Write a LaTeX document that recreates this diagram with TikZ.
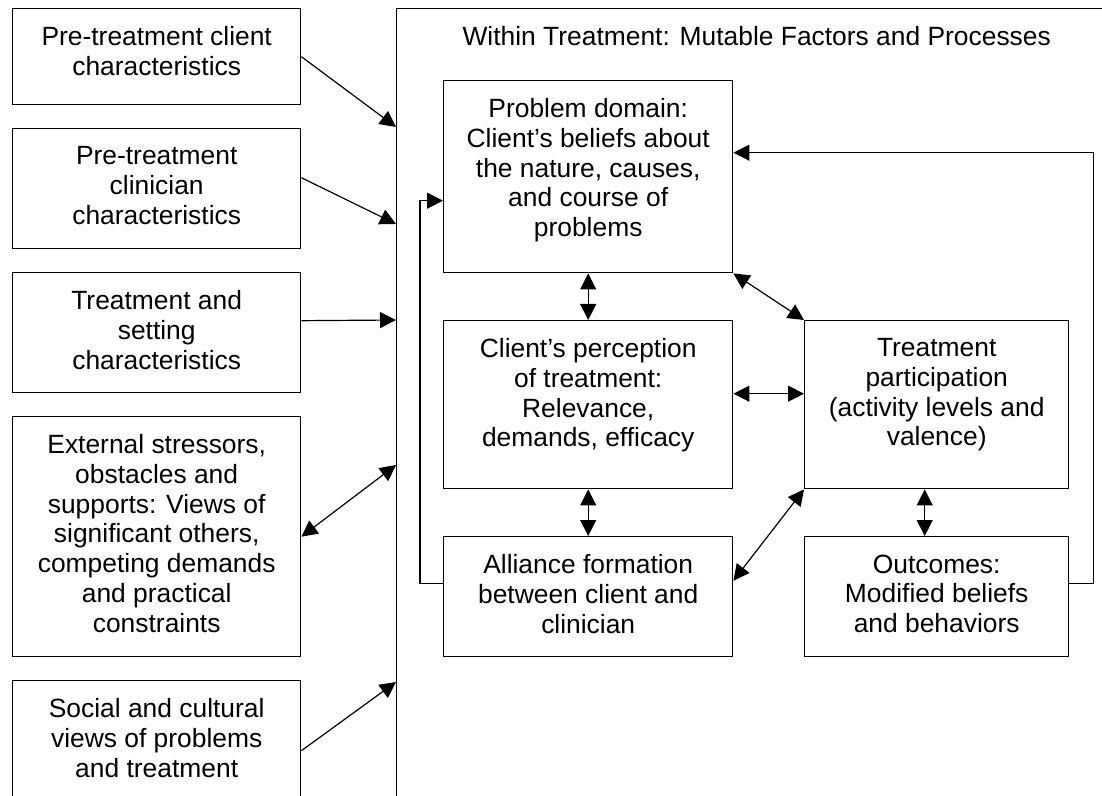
\documentclass[tikz,border=0pt]{standalone}
\usepackage{fontspec}
\setmainfont{Liberation Sans}
\usetikzlibrary{arrows.meta,calc}
\newcommand{\celltext}[3]{\parbox[t][#2][t]{#1}{\centering #3}}

\begin{document}
\begin{tikzpicture}[x=0.5pt,y=-0.5pt]
        % styles
        \tikzstyle{box}=[draw, line width=0.7pt, inner xsep=0pt, inner ysep=9pt, anchor=north west, font=\fontsize{13.2pt}{14.85pt}\selectfont]
        \tikzstyle{oneway}=[-{Triangle[length=8pt,width=8pt]}, line width=0.6pt]
        \tikzstyle{twoway}=[{Triangle[length=8pt,width=8pt]}-{Triangle[length=8pt,width=8pt]}, line width=0.6pt]

        % page
        \useasboundingbox (0,0) rectangle (1102,796);
        \clip (0,0) rectangle (1102,796);

        % factors outside treatment
        \node[box] (client) at (12,8) {\celltext{144pt}{30pt}{Pre-treatment client\\characteristics}};
        \node[box] (clinician) at (12,128) {\celltext{144pt}{42pt}{Pre-treatment\\clinician\\characteristics}};
        \node[box] (setting) at (12,272) {\celltext{144pt}{42pt}{Treatment and\\setting\\characteristics}};
        \node[box] (stressors) at (12,416) {\celltext{144pt}{102pt}{External stressors,\\obstacles and\\supports: Views of\\significant others,\\competing demands\\and practical\\constraints}};
        \node[box] (social) at (12,680) {\celltext{144pt}{52pt}{Social and cultural\\views of problems\\and treatment}};

        % within treatment
        \node[box] (within) at (396,8) {\celltext{360pt}{388pt}{Within Treatment: Mutable Factors and Processes}};
        \node[box] (problem) at (443,80) {\celltext{144.5pt}{78pt}{Problem domain:\\Client’s beliefs about\\the nature, causes,\\and course of\\problems}};
        \node[box] (perception) at (443,320) {\celltext{144.5pt}{66pt}{Client’s perception\\of treatment:\\Relevance,\\demands, efficacy}};
        \node[box] (alliance) at (443,536) {\celltext{144.5pt}{42pt}{Alliance formation\\between client and\\clinician}};
        \node[box] (participation) at (804,320) {\celltext{132pt}{66pt}{Treatment\\participation\\(activity levels and\\valence)}};
        \node[box] (outcomes) at (804,536) {\celltext{132pt}{42pt}{Outcomes:\\Modified beliefs\\and behaviors}};

        % entry points on the frame
        \coordinate (w1) at (396,127);
        \coordinate (w2) at (396,224);
        \coordinate (w3) at (396,320);
        \coordinate (w4) at (396,465);
        \coordinate (w5) at (396,682);

        % influences on treatment
        \draw[oneway] (client.east) -- (w1);
        \draw[oneway] ($(clinician.east)+(0,-11)$) -- (w2);
        \draw[oneway] ($(setting.east)+(0,-12)$) -- (w3);
        \draw[twoway] (stressors.east) -- (w4);
        \draw[oneway] (social.east) -- (w5);

        % processes
        \draw[twoway] (problem.south) -- (perception.north);
        \draw[twoway] ($(perception.east)+(0,-11)$) -- ($(participation.west)+(0,-11)$);
        \draw[twoway] (perception.south) -- (alliance.north);
        \draw[twoway] ($(participation.south)+(-12,0)$) -- ($(outcomes.north)+(-12,0)$);
        \draw[twoway] (problem.south east) -- (participation.north west);
        \draw[twoway] (participation.south west) -- ($(alliance.east)+(0,-16)$);

        % feedback
        \draw[oneway] ($(outcomes.east)+(0,-13)$) -- ++(24,0) |- ($(problem.east)+(0,-24)$);
        \draw[oneway] ($(alliance.west)+(0,-13)$) -- ++(-23,0) |- ($(problem.west)+(0,24)$);
\end{tikzpicture}
\end{document}
